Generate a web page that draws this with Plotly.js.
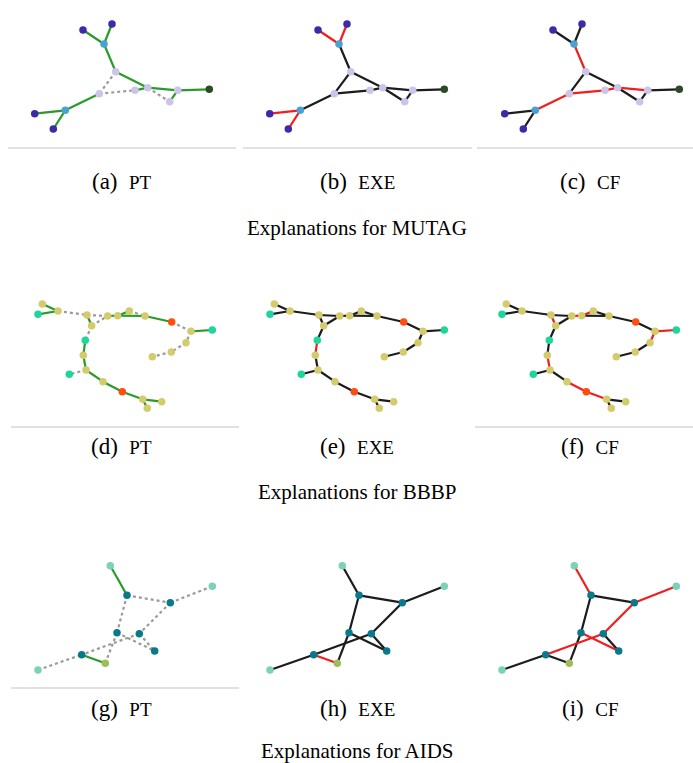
<!DOCTYPE html>
<html><head><meta charset="utf-8">
<script src="https://cdn.plot.ly/plotly-3.0.1.min.js"></script>
<style>html,body{margin:0;padding:0;background:#fff}#chart{width:693px;height:763px}</style>
</head><body><div id="chart"></div>
<script>
// ---------------- DATA ----------------
const datasets = ["MUTAG", "BBBP", "AIDS"];
const panelLetters = [["a","b","c"],["d","e","f"],["g","h","i"]];
const methods = ["PT", "EXE", "CF"];

// MUTAG graph (layout coordinates)
const mutagX = [83, 112, 104, 115.7, 99.3, 135, 147.7, 177.7, 169.7, 209.3, 65.3, 34.7, 53.3];
const mutagY = [30, 24, 44, 71.7, 93.7, 90.3, 87.7, 90.3, 101.7, 89.3, 110.3, 113.7, 129];
const mutagNodeType = [0, 0, 1, 2, 2, 2, 2, 2, 2, 3, 1, 0, 0];
const mutagNodeColors = ["#3c2ba8", "#49a2d2", "#cdc4ea", "#2b4a27"];
const mutagEdges = [[0,2],[1,2],[2,3],[3,4],[3,6],[4,5],[5,6],[6,7],[7,9],[6,8],[7,8],[4,10],[10,11],[10,12]];
const mutagPT  = ["g","g","g","d","g","d","g","g","g","d","g","g","g","g"];
const mutagEXE = ["r","r","k","k","k","k","k","k","k","k","k","k","r","r"];
const mutagCF  = ["k","k","r","k","k","r","r","r","k","k","k","r","k","k"];

// BBBP graph
const bbbpX = [42.3, 38, 58, 87, 91.7, 107.7, 117.7, 129.3, 145, 171.7, 191, 212.3, 186, 171.3, 152.3, 85.3, 83.3, 86, 69.3, 103, 122.3, 142.7, 161.7, 147.3];
const bbbpY = [19, 29.3, 26, 30, 40.7, 31, 30.7, 26, 31, 37, 46.3, 45, 57.7, 67, 71.7, 55.3, 70.3, 85, 89.3, 96.7, 106.7, 114.3, 116.7, 123.3];
const bbbpNodeType = [0,1,0,0,0,0,0,0,0,2,0,1,0,0,0,1,0,0,1,0,2,0,0,0];
const bbbpNodeColors = ["#d4cb6c", "#1fd69a", "#ff4c0f"];
const bbbpEdges = [[0,2],[1,2],[2,3],[3,4],[3,5],[4,5],[5,6],[6,7],[7,8],[6,8],[8,9],[9,10],[10,11],[10,12],[12,13],[13,14],[4,15],[15,16],[16,17],[17,18],[17,19],[19,20],[20,21],[21,22],[21,23]];
const bbbpPT  = ["g","g","d","g","d","d","g","g","d","g","g","d","g","d","d","d","d","g","g","d","g","g","g","g","g"];
const bbbpEXE = ["k","k","k","k","k","k","k","k","k","k","k","k","k","k","k","k","k","r","k","k","k","k","k","k","k"];
const bbbpCF  = ["k","k","k","r","k","k","r","r","k","k","k","k","r","r","k","k","k","k","r","k","k","r","r","k","k"];

// AIDS graph
const aidsX = [110.3, 127, 170.3, 212.3, 117, 139.3, 154.7, 81.7, 105.3, 38];
const aidsY = [15.7, 45.3, 52.7, 36.3, 82.7, 83.7, 101, 104.7, 113.3, 120];
const aidsNodeType = [0,1,1,0,1,1,1,1,2,0];
const aidsNodeColors = ["#7cd3b3", "#0a798b", "#9dbe5b"];
const aidsEdges = [[0,1],[1,2],[2,3],[1,4],[4,8],[2,5],[4,6],[5,6],[5,7],[7,8],[9,7]];
const aidsPT  = ["g","d","d","d","d","d","d","d","d","g","d"];
const aidsEXE = ["k","k","k","k","k","k","k","k","k","r","k"];
const aidsCF  = ["r","k","r","k","k","r","r","k","r","k","k"];

// ---------------- LAYOUT / STYLE ----------------
const W = 693, H = 763;
const PW = 220, PH = 145;
const rowTop = [0, 285, 550];
const colLeft = [[0, 235, 470], [0, 232, 464], [0, 232, 464]];
const edgeStyle = {
  g: {color: "#2a9a2a", width: 2.2, dash: "solid"},
  r: {color: "#f01e1e", width: 2.2, dash: "solid"},
  k: {color: "#1c1c1c", width: 2.2, dash: "solid"},
  d: {color: "#9a9a9a", width: 2.2, dash: "dot"}
};
const captionCX = [122, 357, 590];
const captionCY = [181, 446, 708];
const titleCY = [228, 492, 751];

const graphs = [
  {x: mutagX, y: mutagY, t: mutagNodeType, c: mutagNodeColors, e: mutagEdges, s: [mutagPT, mutagEXE, mutagCF]},
  {x: bbbpX, y: bbbpY, t: bbbpNodeType, c: bbbpNodeColors, e: bbbpEdges, s: [bbbpPT, bbbpEXE, bbbpCF]},
  {x: aidsX, y: aidsY, t: aidsNodeType, c: aidsNodeColors, e: aidsEdges, s: [aidsPT, aidsEXE, aidsCF]}
];

const traces = [];
const layout = {
  width: W, height: H, margin: {l: 0, r: 0, t: 0, b: 0},
  paper_bgcolor: "#fff", plot_bgcolor: "rgba(0,0,0,0)",
  showlegend: false, hovermode: false,
  font: {family: "Liberation Serif, Times New Roman, serif", color: "#000"},
  annotations: [], shapes: []
};

for (let r = 0; r < 3; r++) {
  const g = graphs[r];
  for (let c = 0; c < 3; c++) {
    const idx = r * 3 + c + 1;
    const xa = "x" + (idx === 1 ? "" : idx), ya = "y" + (idx === 1 ? "" : idx);
    const left = colLeft[r][c];
    layout["xaxis" + (idx === 1 ? "" : idx)] = {
      domain: [left / W, (left + PW) / W], range: [0, PW], visible: false, fixedrange: true
    };
    layout["yaxis" + (idx === 1 ? "" : idx)] = {
      domain: [1 - (rowTop[r] + PH) / H, 1 - rowTop[r] / H], range: [PH, 0], visible: false, fixedrange: true
    };
    const styles = g.s[c];
    ["d", "k", "g", "r"].forEach(st => {
      const ex = [], ey = [];
      g.e.forEach((ed, i) => {
        if (styles[i] !== st) return;
        ex.push(g.x[ed[0]], g.x[ed[1]], null);
        ey.push(g.y[ed[0]], g.y[ed[1]], null);
      });
      if (ex.length) traces.push({
        type: "scatter", mode: "lines", x: ex, y: ey, xaxis: xa, yaxis: ya,
        line: edgeStyle[st], hoverinfo: "skip", cliponaxis: false
      });
    });
    traces.push({
      type: "scatter", mode: "markers", x: g.x, y: g.y, xaxis: xa, yaxis: ya,
      marker: {size: 7.5, color: g.t.map(t => g.c[t]), line: {width: 0}},
      hoverinfo: "skip", cliponaxis: false
    });
    layout.annotations.push({
      xref: "paper", yref: "paper", x: captionCX[c] / W, y: 1 - captionCY[r] / H,
      xanchor: "center", yanchor: "middle", showarrow: false,
      text: "(" + panelLetters[r][c] + ")  <span style='font-size:19px'>" + methods[c] + "</span>",
      font: {size: 23, family: "Liberation Serif, serif", color: "#000"}
    });
  }
  layout.annotations.push({
    xref: "paper", yref: "paper", x: 357 / W, y: 1 - titleCY[r] / H,
    xanchor: "center", yanchor: "middle", showarrow: false,
    text: "Explanations for " + datasets[r],
    font: {size: 21, family: "Liberation Serif, serif", color: "#000"}
  });
}

// separator rules under panel images
const rules = [[148, 8, 236], [148, 243, 472], [148, 477, 693], [427, 11, 239], [427, 475, 693], [688, 11, 239]];
rules.forEach(rl => layout.shapes.push({
  type: "line", xref: "paper", yref: "paper",
  x0: rl[1] / W, x1: rl[2] / W, y0: 1 - rl[0] / H, y1: 1 - rl[0] / H,
  line: {color: "#c4c4c4", width: 1.2}
}));

Plotly.newPlot("chart", traces, layout, {staticPlot: true, displayModeBar: false});
</script></body></html>
